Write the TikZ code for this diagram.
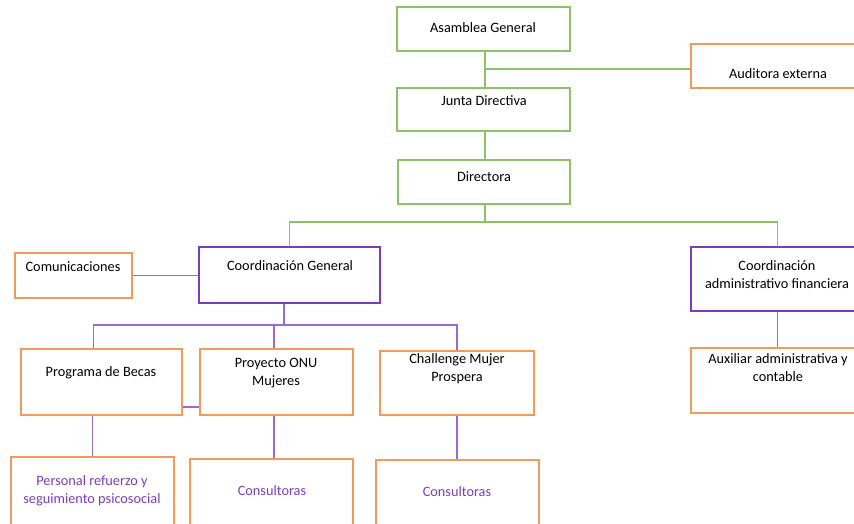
\documentclass[tikz,border=0pt]{standalone}
\usepackage{fontspec}
\setmainfont{Carlito}
\definecolor{grn}{HTML}{8DC26A}
\definecolor{org}{HTML}{F39A5B}
\definecolor{prp}{HTML}{7A3DBE}
\definecolor{lprp}{HTML}{9A6BCB}
\tikzset{
  gbox/.style={draw=grn, line width=1.7pt, inner sep=0pt},
  obox/.style={draw=org, line width=1.7pt, inner sep=0pt},
  pbox/.style={draw=prp, line width=1.7pt, inner sep=0pt},
  txt/.style={inner sep=0pt, align=center, font=\fontsize{14.3}{18}\selectfont},
  ptxt/.style={txt, text=prp},
  gline/.style={draw=grn, line width=1.6pt},
  pline/.style={draw=lprp, line width=1.6pt},
}
\begin{document}
\begin{tikzpicture}[x=1pt, y=-1pt]
	\clip (0,0) rectangle (854,523);
	% cajas
	\node[gbox, minimum width=173, minimum height=44] (asam)   at (483.5,29)  {};
	\node[obox, minimum width=173, minimum height=44] (audit)  at (777.5,66)  {};
	\node[gbox, minimum width=173, minimum height=43] (junta)  at (483.5,109.5) {};
	\node[gbox, minimum width=172, minimum height=44] (direc)  at (484,182)   {};
	\node[pbox, minimum width=181, minimum height=56] (coordg) at (289.5,275) {};
	\node[obox, minimum width=117, minimum height=45] (comun)  at (73.5,275.5) {};
	\node[pbox, minimum width=173, minimum height=64] (coorda) at (777.5,279) {};
	\node[obox, minimum width=161, minimum height=66] (becas)  at (101.5,382) {};
	\node[obox, minimum width=153, minimum height=66] (onu)    at (276.5,382) {};
	\node[obox, minimum width=154, minimum height=64] (chall)  at (457,383)   {};
	\node[obox, minimum width=173, minimum height=65] (aux)    at (777.5,380.5) {};
	\node[obox, minimum width=163, minimum height=83] (pers)   at (92.5,498.5) {};
	\node[obox, minimum width=163, minimum height=81] (cons1)  at (271.5,499.5) {};
	\node[obox, minimum width=163, minimum height=80] (cons2)  at (457.5,500) {};
	% textos
	\node[txt] (asam-t)   at (483,28)    {Asamblea General};
	\node[txt] (audit-t)  at (778,74)    {Auditora externa};
	\node[txt] (junta-t)  at (484,101)   {Junta Directiva};
	\node[txt] (direc-t)  at (484,177)   {Directora};
	\node[txt] (coordg-t) at (290,266)   {Coordinación General};
	\node[txt] (comun-t)  at (73,267)    {Comunicaciones};
	\node[txt] (coorda-t) at (777,275)   {Coordinación\\administrativo financiera};
	\node[txt] (becas-t)  at (101,373)   {Programa de Becas};
	\node[txt] (onu-t)    at (276,373.5) {Proyecto ONU\\Mujeres};
	\node[txt] (chall-t)  at (457,369)   {Challenge Mujer\\Prospera};
	\node[txt] (aux-t)    at (778,368)   {Auxiliar administrativa y\\contable};
	\node[ptxt] (pers-t)  at (92,491)    {Personal refuerzo y\\seguimiento psicosocial};
	\node[ptxt] (cons1-t) at (272,491)   {Consultoras};
	\node[ptxt] (cons2-t) at (457,492)   {Consultoras};
	% conectores
	\coordinate (t1) at (485,69);
	\coordinate (t2) at (485,222);
	\coordinate (t3) at (284,325);
	\coordinate (t4) at (274,325);
	\draw[gline] (asam.south -| t1) -- (junta.north -| t1);
	\draw[gline] (t1) -- (t1 -| audit.west);
	\draw[gline] (junta.south -| t1) -- (direc.north -| t1);
	\draw[gline] (direc.south -| t2) -- (t2);
	\draw[gline] (coordg.north) |- (t2) -| (coorda.north);
	\draw[pline] (comun.east) -- (comun.east -| coordg.west);
	\draw[pline] (coordg.south -| t3) -- (t3);
	\draw[pline] ([xshift=-8]becas.north) |- (t3) -| (chall.north);
	\draw[pline] (t4) -- (onu.north -| t4);
	\draw[pline] ([yshift=9]becas.south east) -- ([yshift=9]onu.south west);
	\draw[pline] (becas.south -| pers.north) -- (pers.north);
	\draw[pline] (onu.south -| t4) -- (cons1.north -| t4);
	\draw[pline] (chall.south) -- (cons2.north -| chall.south);
	\draw[pline] (coorda.south) -- (aux.north);
\end{tikzpicture}
\end{document}
